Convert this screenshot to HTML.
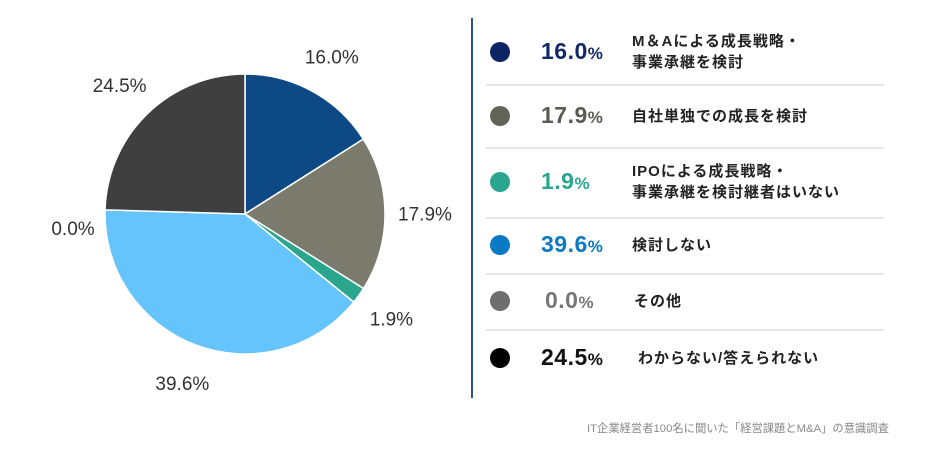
<!DOCTYPE html>
<html><head><meta charset="utf-8"><style>
body{margin:0;background:#fff;width:930px;height:472px;overflow:hidden;position:relative;font-family:"Liberation Sans","Noto Sans CJK JP",sans-serif}
.t{position:absolute;white-space:nowrap}
.val{position:absolute;font-size:23px;font-weight:bold;letter-spacing:0.5px}
.val small{font-size:17px}
.lab{position:absolute;font-size:15px;font-weight:bold;color:#222;line-height:21px;letter-spacing:1px}
.dot{position:absolute;width:20px;height:20px;border-radius:50%}
.sep{position:absolute;left:486px;width:398px;height:2px;background:#e6e6e6}
</style></head><body>
<svg id="pie" width="470" height="420" style="position:absolute;left:0;top:0"></svg>
<div style="position:absolute;left:471px;top:18px;width:2px;height:380px;background:#2c4f8a"></div>
<div id="legend"></div>
<div class="t" style="left:587px;top:420px;font-size:11.3px;color:#888">IT企業経営者100名に聞いた「経営課題とM&amp;A」の意識調査</div>
<script>
const categories=["M＆Aによる成長戦略・\n事業承継を検討","自社単独での成長を検討","IPOによる成長戦略・\n事業承継を検討継者はいない","検討しない","その他","わからない/答えられない"];
const values=[16.0,17.9,1.9,39.6,0.0,24.5];
const labels=["16.0%","17.9%","1.9%","39.6%","0.0%","24.5%"];
const sliceColors=["#0d4a85","#7a7b6c","#2aa58e","#66c4fc","#777777","#3f3f3f"];
const dotColors=["#0d2466","#62645a","#2aa58e","#0a7ac4","#6e6e6e","#000000"];
const valColors=["#13286b","#5a5b52","#2aa58e","#0a7ac4","#777","#111"];
const NS="http://www.w3.org/2000/svg";
const svg=document.getElementById('pie');
const cx=245,cy=214,r=140,lr=r+40;
const total=values.reduce((a,b)=>a+b,0);
let a0=0;
values.forEach((v,i)=>{
  const a1=a0+v/total*2*Math.PI;
  const p=(a)=>[cx+r*Math.sin(a),cy-r*Math.cos(a)];
  if(v>0){
    const [x0,y0]=p(a0),[x1,y1]=p(a1);
    const path=document.createElementNS(NS,'path');
    path.setAttribute('d',`M${cx},${cy}L${x0},${y0}A${r},${r} 0 ${a1-a0>Math.PI?1:0} 1 ${x1},${y1}Z`);
    path.setAttribute('fill',sliceColors[i]);
    path.setAttribute('stroke','#fff');path.setAttribute('stroke-width','1.5');
    
    
    svg.appendChild(path);
  }
  const am=(a0+a1)/2;
  let lx=cx+lr*Math.sin(am),ly=cy-lr*Math.cos(am);
  if(v===0){lx=cx-172;ly=cy+14;}
  const t=document.createElementNS(NS,'text');
  t.setAttribute('x',lx);t.setAttribute('y',ly+7);
  t.setAttribute('text-anchor','middle');
  t.setAttribute('font-size','19');t.setAttribute('fill','#333');
  t.setAttribute('font-family','Liberation Sans, sans-serif');
  t.textContent=labels[i];
  
  
  svg.appendChild(t);
  a0=a1;
});
const leg=document.getElementById('legend');
const rowY=[52,116,182,245,301,358];
const sepY=[84,147,217,273,329];
sepY.forEach((y,i)=>{const s=document.createElement('div');s.className='sep';s.style.top=y+'px';


leg.appendChild(s);});
categories.forEach((c,i)=>{
  const y=rowY[i];
  const d=document.createElement('div');d.className='dot';d.style.left='490px';d.style.top=(y-10)+'px';d.style.background=dotColors[i];
  
  
  leg.appendChild(d);
  const v=document.createElement('div');v.className='val';v.style.left=(i===4?545:541)+'px';v.style.top=(y-14)+'px';v.style.color=valColors[i];
  v.innerHTML=labels[i].replace('%','<small>%</small>');
  
  
  leg.appendChild(v);
  const l=document.createElement('div');l.className='lab';
  const lines=c.split('\n');
  l.style.left=(i===4?634:(i===5?638:632))+'px';l.style.top=(y-(lines.length*21)/2)+'px';
  l.innerHTML=lines.join('<br>');
  
  
  leg.appendChild(l);
});
</script>
</body></html>
